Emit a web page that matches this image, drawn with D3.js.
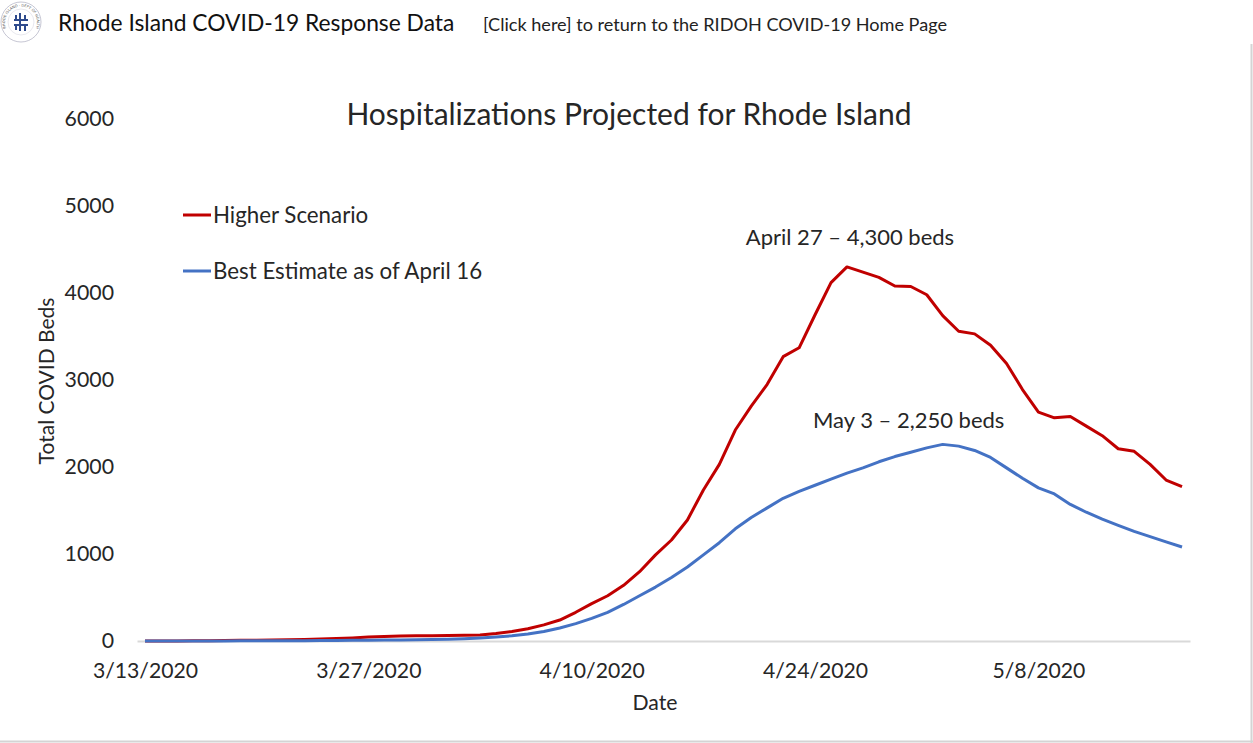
<!DOCTYPE html>
<html>
<head>
<meta charset="utf-8">
<script src="https://cdn.jsdelivr.net/npm/d3@7/dist/d3.min.js"></script>
<style>
  html, body { margin: 0; padding: 0; background: #fff; }
  svg { display: block; }
</style>
</head>
<body>
<div id="chart"></div>
<script>
// first day of the projection, one value per day after that
var startDate = "2020-03-13";

var higherScenario = [
  0, 0, 0, 2, 4, 6, 8, 10, 12, 14,
  18, 22, 28, 35, 45, 52, 58, 60, 60, 62,
  65, 70, 85, 110, 140, 185, 241, 330, 430, 520,
  640, 797, 990, 1161, 1391, 1736, 2030, 2425, 2700, 2950,
  3268, 3370, 3750, 4120, 4300, 4240, 4180, 4080, 4075, 3980,
  3740, 3560, 3530, 3400, 3190, 2890, 2630, 2565, 2580, 2470,
  2360, 2210, 2180, 2030, 1850, 1775
];

var bestEstimate = [
  0, 0, 0, 0, 1, 1, 2, 2, 3, 4,
  4, 5, 6, 8, 10, 11, 12, 14, 16, 20,
  26, 34, 45, 60, 80, 110, 150, 200, 260, 330,
  420, 520, 620, 730, 850, 990, 1130, 1290, 1420, 1530,
  1640, 1720, 1790, 1860, 1930, 1990, 2060, 2120, 2170, 2220,
  2260, 2240, 2190, 2110, 1990, 1870, 1760, 1690, 1570, 1480,
  1400, 1330, 1260, 1200, 1140, 1080
];

var tickDates = ["2020-03-13", "2020-03-27", "2020-04-10", "2020-04-24", "2020-05-08"];
var yTicks = [0, 1000, 2000, 3000, 4000, 5000, 6000];

var seriesNames = ["Higher Scenario", "Best Estimate as of April 16"];
var seriesColors = ["#c00000", "#4472c4"];

var annotations = [
  { text: "April 27 \u2013 4,300 beds", date: "2020-04-26", value: 4300 },
  { text: "May 3 \u2013 2,250 beds", date: "2020-05-03", value: 2260 }
];

var W = 1253, H = 743;
var parse = d3.utcParse("%Y-%m-%d");
var day = 864e5;
var t0 = parse(startDate);

function toPoints(arr) {
  return arr.map(function(v, i) { return { date: new Date(+t0 + i * day), value: v }; });
}
var series = [toPoints(higherScenario), toPoints(bestEstimate)];

var svg = d3.select("#chart").append("svg")
  .attr("width", W)
  .attr("height", H);

// page frame
svg.append("line").attr("x1", 0).attr("x2", W).attr("y1", H - 1.5).attr("y2", H - 1.5)
  .style("stroke", "#d4d4d4").style("stroke-width", 2);
svg.append("line").attr("x1", W - 1.5).attr("x2", W - 1.5).attr("y1", 44).attr("y2", H)
  .style("stroke", "#d4d4d4").style("stroke-width", 2);

// header: seal + title + link
var logo = svg.append("g").attr("transform", "translate(21,22)");
logo.append("circle").attr("r", 20).style("fill", "#fff").style("stroke", "#b8b8c8").style("stroke-width", 0.8);
logo.append("circle").attr("r", 13).style("fill", "none").style("stroke", "#d0d0dc").style("stroke-width", 0.5);
var bars = [[-7, -3, 14, 2], [-7, 2, 14, 2], [-2, -9, 2, 18], [3, -7, 2, 5], [-6, -7, 2, 4], [3, 4, 2, 5], [-6, 4, 2, 4]];
logo.selectAll("rect.mark").data(bars).enter().append("rect")
  .attr("x", function(d) { return d[0]; })
  .attr("y", function(d) { return d[1]; })
  .attr("width", function(d) { return d[2]; })
  .attr("height", function(d) { return d[3]; })
  .style("fill", "#2e4a8c");
logo.append("path").attr("id", "sealArc")
  .attr("d", "M -15 6 A 16 16 0 1 1 15 6")
  .style("fill", "none");
logo.append("text").style("font-size", "3.6px").style("fill", "#555").style("font-family", "DejaVu Sans")
  .append("textPath").attr("href", "#sealArc").attr("startOffset", "50%").attr("text-anchor", "middle")
  .text("RHODE ISLAND \u00b7 DEPT OF HEALTH");

svg.append("text")
  .attr("x", 58).attr("y", 31)
  .style("font-family", "Lato, 'Open Sans', sans-serif")
  .style("font-size", "22.8px")
  .style("fill", "#111")
  .text("Rhode Island COVID-19 Response Data");

svg.append("text")
  .attr("x", 483).attr("y", 31)
  .style("font-family", "Lato, 'Open Sans', sans-serif")
  .style("font-size", "18.1px")
  .style("fill", "#222")
  .text("[Click here] to return to the RIDOH COVID-19 Home Page");

// chart area
var x = d3.scaleUtc()
  .domain([new Date(+t0 - day / 2), new Date(+t0 + (higherScenario.length - 0.5) * day)])
  .range([137, 1190]);
var y = d3.scaleLinear().domain([0, 6000]).range([641, 119]);

var font = "Lato, 'Open Sans', sans-serif";
var txt = "#262626";

svg.append("text")
  .attr("x", 629).attr("y", 125)
  .attr("text-anchor", "middle")
  .style("font-family", font).style("font-size", "30px").style("fill", txt)
  .text("Hospitalizations Projected for Rhode Island");

// y axis: labels only
var yAxis = svg.append("g")
  .attr("transform", "translate(121,0)")
  .call(d3.axisLeft(y).tickValues(yTicks).tickSize(0).tickPadding(7).tickFormat(d3.format("d")));
yAxis.select(".domain").remove();
yAxis.selectAll("text").style("font-family", font).style("font-size", "21.3px").style("fill", txt);

// x axis: light base line + date labels
var xAxis = svg.append("g")
  .attr("transform", "translate(0,641)")
  .call(d3.axisBottom(x).tickValues(tickDates.map(parse)).tickSize(0).tickPadding(22)
    .tickFormat(d3.utcFormat("%-m/%-d/%Y")));
xAxis.select(".domain").style("stroke", "#d9d9d9").style("stroke-width", 2);
xAxis.selectAll("text").style("font-family", font).style("font-size", "21.2px").style("fill", txt);

svg.append("text")
  .attr("x", 655).attr("y", 710)
  .attr("text-anchor", "middle")
  .style("font-family", font).style("font-size", "21.2px").style("fill", txt)
  .text("Date");

svg.append("text")
  .attr("transform", "translate(54,381) rotate(-90)")
  .attr("text-anchor", "middle")
  .style("font-family", font).style("font-size", "21px").style("fill", txt)
  .text("Total COVID Beds");

// lines
var line = d3.line()
  .x(function(d) { return x(d.date); })
  .y(function(d) { return y(d.value); });

svg.selectAll("path.series").data(series).enter().append("path")
  .attr("class", "series")
  .attr("d", line)
  .style("fill", "none")
  .style("stroke", function(d, i) { return seriesColors[i]; })
  .style("stroke-width", 3)
  .style("stroke-linejoin", "round");

// legend
var legend = svg.selectAll("g.legend").data(seriesNames).enter().append("g")
  .attr("class", "legend")
  .attr("transform", function(d, i) { return "translate(183," + (215 + i * 56) + ")"; });
legend.append("line")
  .attr("x1", 0).attr("x2", 28)
  .style("stroke", function(d, i) { return seriesColors[i]; })
  .style("stroke-width", 3);
legend.append("text")
  .attr("x", 30).attr("y", 7.5)
  .style("font-family", font).style("font-size", "22.3px").style("fill", txt)
  .text(function(d) { return d; });

// peak labels
svg.selectAll("text.note").data(annotations).enter().append("text")
  .attr("class", "note")
  .attr("x", function(d, i) { return x(parse(d.date)) + (i === 0 ? 3 : -50); })
  .attr("y", function(d, i) { return y(d.value) - (i === 0 ? 22 : 16); })
  .attr("text-anchor", "middle")
  .style("font-family", font).style("font-size", "22px").style("fill", txt)
  .text(function(d) { return d.text; });
</script>
</body>
</html>
